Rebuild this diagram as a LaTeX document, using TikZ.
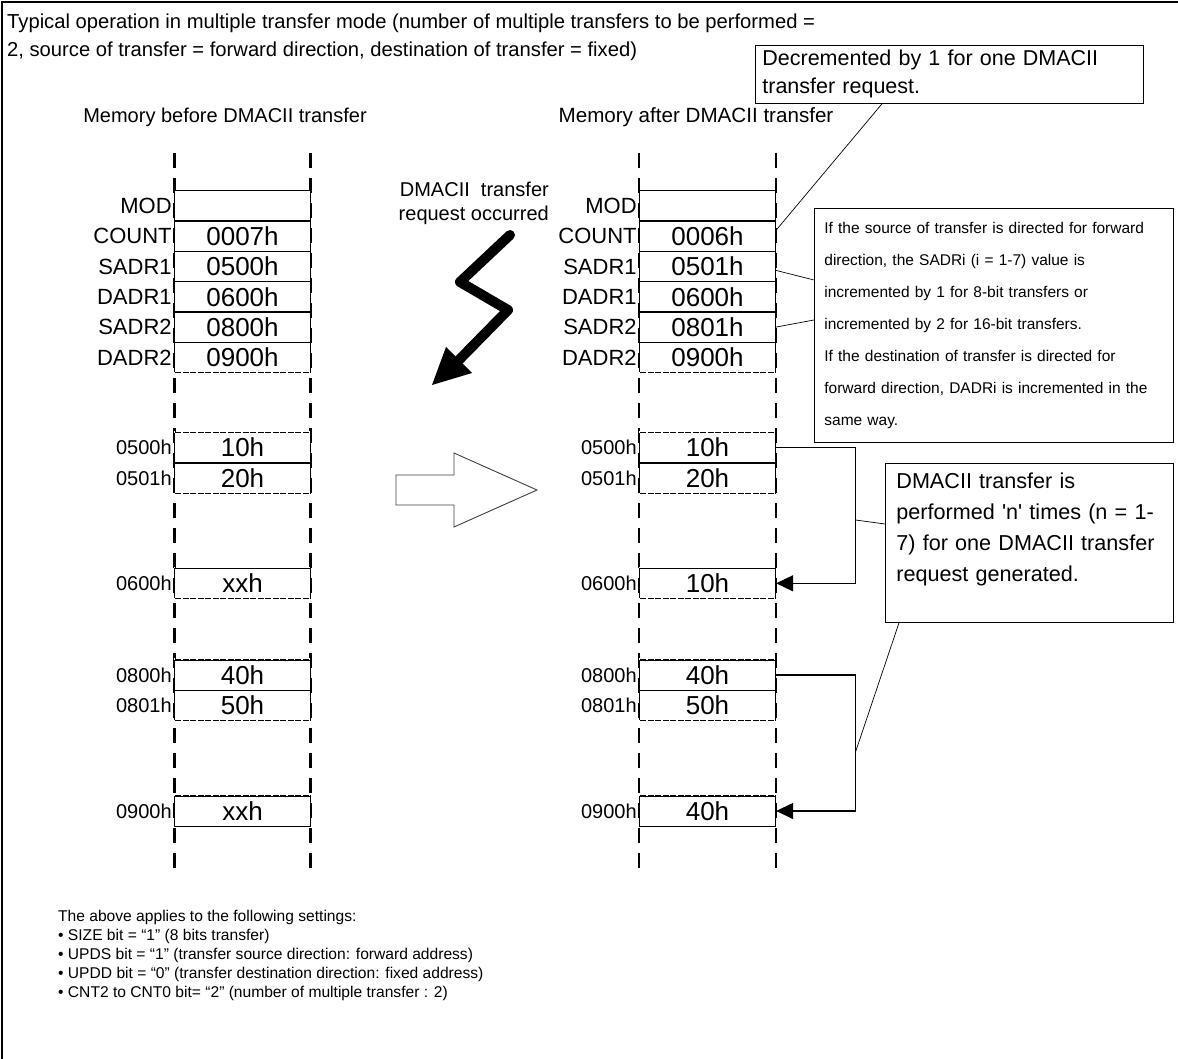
\documentclass[tikz,border=0pt]{standalone}
\usepackage{fontspec}
\setmainfont{Liberation Sans}[Ligatures=TeXOff]
\usetikzlibrary{arrows.meta}
\newcommand{\fsz}[2]{\fontsize{#1}{#2}\selectfont}
\begin{document}
\begin{tikzpicture}[x=1pt,y=-1pt,
  colline/.style={line width=2.2, dash pattern=on 15 off 10},
  cell/.style={draw, fill=white, line width=1.3, minimum width=136, minimum height=30.3, inner sep=0, font=\fsz{26}{26}},
  lbl/.style={anchor=east, inner sep=2, font=\fsz{22}{22}},
  addr/.style={anchor=east, inner sep=2, font=\fsz{20}{20}},
  gapedge/.style={draw=white, line width=1.6, dash pattern=on 1.5 off 6},
  conn/.style={line width=1.3, -{Triangle[length=17,width=16]}},
  lead/.style={line width=0.7},
  note/.style={draw, line width=0.8, inner ysep=0, align=left, anchor=north west},
  txt/.style={inner sep=0, font=\fsz{20}{20}},
  small/.style={anchor=base west, inner sep=0, font=\fsz{15.6}{15.6}},
]
\useasboundingbox (0,0) rectangle (1178,1059);
\draw[line width=2.5] (2,1059) -- (2,2) -- (1178,2);

% title
\node[txt, anchor=base west, font=\fsz{20.2}{20.2}] (t1) at (7,29) {Typical operation in multiple transfer mode (number of multiple transfers to be performed =};
\node[txt, anchor=base west, font=\fsz{20.2}{20.2}] (t2) at (7,57) {2, source of transfer = forward direction, destination of transfer = fixed)};

\node[txt] (hb) at (225,117) {Memory before DMACII transfer};
\node[txt, font=\fsz{20.6}{20.6}] (ha) at (696,117) {Memory after DMACII transfer};

% column lines
\foreach \cx in {174.5,310.5,639,776} \draw[colline] (\cx,153) -- (\cx,870);

% left column cells
\node[cell] (lmod) at (242.5,205.85) {};
\node[cell] (lcount) at (242.5,236.15) {0007h};
\node[cell] (lsadr1) at (242.5,266.45) {0500h};
\node[cell] (ldadr1) at (242.5,296.75) {0600h};
\node[cell] (lsadr2) at (242.5,327.05) {0800h};
\node[cell] (ldadr2) at (242.5,357.35) {0900h};
\node[cell] (l500) at (242.5,447.7) {10h};
\node[cell] (l501) at (242.5,478) {20h};
\node[cell] (l600) at (242.5,583.3) {xxh};
\node[cell] (l800) at (242.5,675) {40h};
\node[cell] (l801) at (242.5,705.3) {50h};
\node[cell] (l900) at (242.5,811) {xxh};

% right column cells
\node[cell] (rmod) at (707.5,205.85) {};
\node[cell] (rcount) at (707.5,236.15) {0006h};
\node[cell] (rsadr1) at (707.5,266.45) {0501h};
\node[cell] (rdadr1) at (707.5,296.75) {0600h};
\node[cell] (rsadr2) at (707.5,327.05) {0801h};
\node[cell] (rdadr2) at (707.5,357.35) {0900h};
\node[cell] (r500) at (707.5,447.7) {10h};
\node[cell] (r501) at (707.5,478) {20h};
\node[cell] (r600) at (707.5,583.3) {10h};
\node[cell] (r800) at (707.5,675) {40h};
\node[cell] (r801) at (707.5,705.3) {50h};
\node[cell] (r900) at (707.5,811) {40h};

% dashed group edges
\foreach \s in {l,r}{
  \draw[gapedge] (\s dadr2.south west) -- (\s dadr2.south east);
  \draw[gapedge] (\s 500.north west) -- (\s 500.north east);
  \draw[gapedge] (\s 501.south west) -- (\s 501.south east);
  \draw[gapedge] (\s 600.north west) -- (\s 600.north east);
  \draw[gapedge] (\s 600.south west) -- (\s 600.south east);
  \draw[gapedge] (\s 800.north west) -- (\s 800.north east);
  \draw[gapedge] (\s 801.south west) -- (\s 801.south east);
  \draw[gapedge] (\s 900.north west) -- (\s 900.north east);
}

% labels
\foreach \s in {l,r}{
  \node[lbl] (\s modL) at (\s mod.west) {MOD};
  \node[lbl] (\s countL) at (\s count.west) {COUNT};
  \node[lbl] (\s sadr1L) at (\s sadr1.west) {SADR1};
  \node[lbl] (\s dadr1L) at (\s dadr1.west) {DADR1};
  \node[lbl] (\s sadr2L) at (\s sadr2.west) {SADR2};
  \node[lbl] (\s dadr2L) at (\s dadr2.west) {DADR2};
  \node[addr] (\s 500L) at (\s 500.west) {0500h};
  \node[addr] (\s 501L) at (\s 501.west) {0501h};
  \node[addr] (\s 600L) at (\s 600.west) {0600h};
  \node[addr] (\s 800L) at (\s 800.west) {0800h};
  \node[addr] (\s 801L) at (\s 801.west) {0801h};
  \node[addr] (\s 900L) at (\s 900.west) {0900h};
}

% request text and lightning arrow
\node[txt, align=right, anchor=north east, font=\fsz{20}{24}] (req) at (549,182) {DMACII~~transfer\\request occurred};
\coordinate (z1) at (510,235);
\coordinate (z2) at (460,282);
\coordinate (z3) at (508,310);
\coordinate (z4) at (458,361);
\coordinate (ztip) at (432,385);
\coordinate (zb1) at (446,347);
\coordinate (zb2) at (472,373);
\draw[line width=10, line join=round, line cap=round] (z1) -- (z2) -- (z3) -- (z4);
\fill (ztip) -- (zb1) -- (zb2) -- cycle;

% hollow transfer arrow
\draw[line width=0.9, draw=black!75] (396,475) -- (454,475) -- (454,453) -- (537,490) -- (454,527) -- (454,505) -- (396,505) -- cycle;

% brackets
\draw[conn] (r500.east) -- ++(79.5,0) |- (r600.east);
\draw[conn] (r800.east) -- ++(79.5,0) |- (r900.east);
\coordinate (br1) at (855.5,520);
\coordinate (br2) at (855.5,752);

% annotation boxes
\node[note, minimum width=388, minimum height=58, text width=374, inner xsep=7, font=\fsz{21.5}{28}] (dec) at (755,45) {Decremented by 1 for one DMACII\\transfer request.};
\node[note, minimum width=359, minimum height=234, text width=339, inner xsep=10, font=\fsz{15.5}{32}] (info) at (814,208) {If the source of transfer is directed for forward\\direction, the SADRi (i = 1-7) value is\\incremented by 1 for 8-bit transfers or\\incremented by 2 for 16-bit transfers.\\If the destination of transfer is directed for\\forward direction, DADRi is incremented in the\\same way.};
\node[note, minimum width=288, minimum height=159, text width=266, inner xsep=11, font=\fsz{21.6}{31}] (dm) at (885,463) {DMACII transfer is\\performed 'n' times (n = 1-\\7) for one DMACII transfer\\request generated.\\\mbox{}};

% leaders
\draw[lead] ([xshift=127]dec.south west) -- ([yshift=6]rcount.east);
\draw[lead] ([yshift=-72]info.north west) -- ([yshift=-4]rsadr1.east);
\draw[lead] ([yshift=-112]info.north west) -- (rsadr2.east);
\draw[lead] ([yshift=-61]dm.north west) -- (br1);
\draw[lead] ([xshift=14]dm.south west) -- (br2);

% notes
\node[small] (n0) at (58,921) {The above applies to the following settings:};
\node[small] (n1) at (58,940) {• SIZE bit = “1” (8 bits transfer)};
\node[small] (n2) at (58,959) {• UPDS bit = “1” (transfer source direction: forward address)};
\node[small] (n3) at (58,978) {• UPDD bit = “0” (transfer destination direction: fixed address)};
\node[small] (n4) at (58,997) {• CNT2 to CNT0 bit= “2” (number of multiple transfer : 2)};
\end{tikzpicture}
\end{document}
